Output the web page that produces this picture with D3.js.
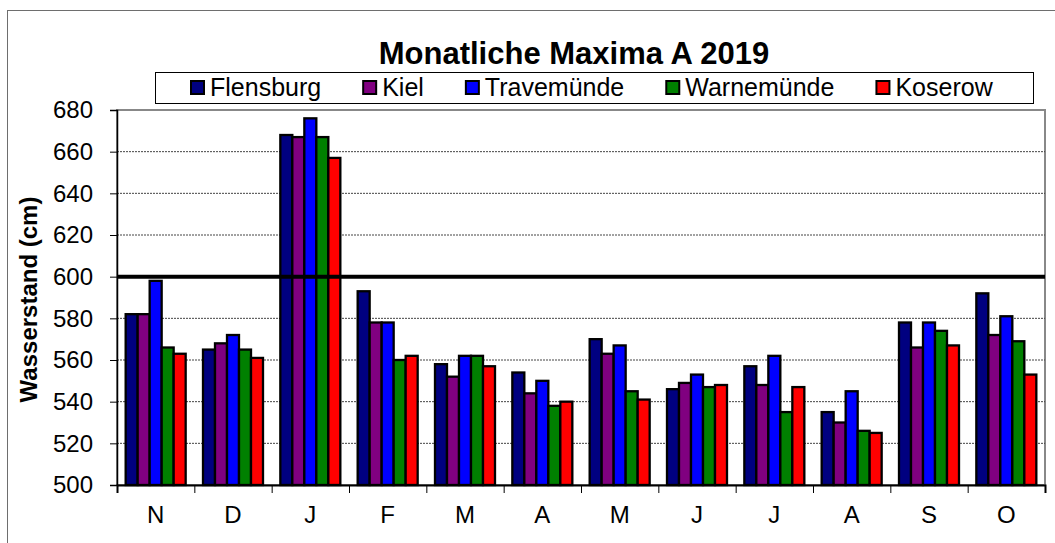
<!DOCTYPE html>
<html>
<head>
<meta charset="utf-8">
<script src="https://cdn.jsdelivr.net/npm/d3@7"></script>
<style>
  body { margin: 0; background: #fff; }
  text { font-family: "Liberation Sans", Arial, sans-serif; }
</style>
</head>
<body>
<svg id="chart"></svg>
<script>
var width = 1055
var height = 543

// monthly maxima (cm), hydrological year Nov 2018 - Oct 2019
var months = ["N", "D", "J", "F", "M", "A", "M", "J", "J", "A", "S", "O"]
var stations = ["Flensburg", "Kiel", "Travemünde", "Warnemünde", "Koserow"]
var stationColors = ["#000080", "#800080", "#0000FF", "#008000", "#FF0000"]
var flensburg  = [582, 565, 668, 593, 558, 554, 570, 546, 557, 535, 578, 592]
var kiel       = [582, 568, 667, 578, 552, 544, 563, 549, 548, 530, 566, 572]
var travemuende = [598, 572, 676, 578, 562, 550, 567, 553, 562, 545, 578, 581]
var warnemuende = [566, 565, 667, 560, 562, 538, 545, 547, 535, 526, 574, 569]
var koserow    = [563, 561, 657, 562, 557, 540, 541, 548, 547, 525, 567, 553]
var yTicks = [500, 520, 540, 560, 580, 600, 620, 640, 660, 680]
var threshold = 600

var series = [flensburg, kiel, travemuende, warnemuende, koserow]

var plot = {left: 117, right: 1045, top: 110, bottom: 485}

var svg = d3.select("#chart")
    .attr("width", width)
    .attr("height", height)

// outer chart frame (only left and top visible)
svg.append("rect")
    .attr("x", 7.5).attr("y", 10.5)
    .attr("width", width + 20).attr("height", height + 20)
    .attr("fill", "none")
    .attr("stroke", "#6e6e6e")
    .attr("stroke-width", 1)

var y = d3.scaleLinear()
    .domain([500, 680])
    .range([plot.bottom, plot.top])

var x0 = d3.scaleBand()
    .domain(d3.range(months.length))
    .range([plot.left, plot.right])
    .padding(0)

var gap = x0.bandwidth() * 0.112
var x1 = d3.scaleBand()
    .domain(d3.range(stations.length))
    .range([gap, x0.bandwidth() - gap])
    .padding(0)

// plot area border (gray top + right)
svg.append("rect")
    .attr("x", plot.left).attr("y", plot.top)
    .attr("width", plot.right - plot.left).attr("height", plot.bottom - plot.top)
    .attr("fill", "#fff")
    .attr("stroke", "#888")
    .attr("stroke-width", 2)

// dotted gridlines
svg.append("g").selectAll("line")
    .data(yTicks.filter(t => t > 500 && t < 680 && t != threshold))
    .join("line")
    .attr("x1", plot.left).attr("x2", plot.right)
    .attr("y1", d => y(d)).attr("y2", d => y(d))
    .attr("stroke", "#444")
    .attr("stroke-width", 1)
    .attr("stroke-dasharray", "2,1")

// bars
var groups = svg.append("g").selectAll("g")
    .data(months.map((m, i) => i))
    .join("g")
    .attr("transform", i => "translate(" + x0(i) + ",0)")

groups.selectAll("rect")
    .data(i => series.map((s, k) => ({k: k, v: s[i]})))
    .join("rect")
    .attr("x", d => x1(d.k))
    .attr("y", d => y(d.v))
    .attr("width", x1.bandwidth())
    .attr("height", d => y(500) - y(d.v))
    .attr("fill", d => stationColors[d.k])
    .attr("stroke", "#000")
    .attr("stroke-width", 2.3)

// 600 cm line
svg.append("line")
    .attr("x1", plot.left).attr("x2", plot.right)
    .attr("y1", y(threshold)).attr("y2", y(threshold))
    .attr("stroke", "#000")
    .attr("stroke-width", 4)

// y axis
var yAxis = svg.append("g")
    .attr("transform", "translate(" + plot.left + ",0)")
    .call(d3.axisLeft(y).tickValues(yTicks).tickSize(7).tickPadding(17))
yAxis.select(".domain").attr("stroke", "#000").attr("stroke-width", 1.5)
yAxis.selectAll("text").attr("font-size", "24px").attr("fill", "#000")
    .attr("font-family", "Liberation Sans, Arial, sans-serif")

// x axis: boundary ticks
var xb = d3.scaleLinear().domain([0, months.length]).range([plot.left, plot.right])
var xAxis = svg.append("g")
    .attr("transform", "translate(0," + plot.bottom + ")")
    .call(d3.axisBottom(xb).tickValues(d3.range(months.length + 1)).tickSize(8).tickFormat(""))
xAxis.select(".domain").attr("stroke", "#000").attr("stroke-width", 2)

// x labels
var xLab = svg.append("g")
    .attr("transform", "translate(0," + plot.bottom + ")")
    .call(d3.axisBottom(x0).tickSize(0).tickPadding(21).tickFormat(i => months[i]))
xLab.select(".domain").remove()
xLab.selectAll("text").attr("font-size", "24px").attr("fill", "#000")
    .attr("font-family", "Liberation Sans, Arial, sans-serif")

// y title
svg.append("text")
    .attr("transform", "translate(37," + ((plot.top + plot.bottom) / 2 + 2) + ") rotate(-90)")
    .attr("text-anchor", "middle")
    .attr("font-size", "24px")
    .attr("font-weight", "bold")
    .text("Wasserstand (cm)")

// title
svg.append("text")
    .attr("x", 574).attr("y", 64)
    .attr("text-anchor", "middle")
    .attr("font-size", "31px")
    .attr("font-weight", "bold")
    .text("Monatliche Maxima A 2019")

// legend
svg.append("rect")
    .attr("x", 155.5).attr("y", 72.5)
    .attr("width", 878).attr("height", 31)
    .attr("fill", "#fff")
    .attr("stroke", "#000")
    .attr("stroke-width", 1)

var lx = 190
stations.forEach(function(name, k) {
    svg.append("rect")
        .attr("x", lx + 1).attr("y", 81)
        .attr("width", 13).attr("height", 13)
        .attr("fill", stationColors[k])
        .attr("stroke", "#000")
        .attr("stroke-width", 2)
    var t = svg.append("text")
        .attr("x", lx + 20).attr("y", 96)
        .attr("font-size", "25px")
        .text(name)
    lx += 20 + t.node().getComputedTextLength() + 41
})
</script>
</body>
</html>
